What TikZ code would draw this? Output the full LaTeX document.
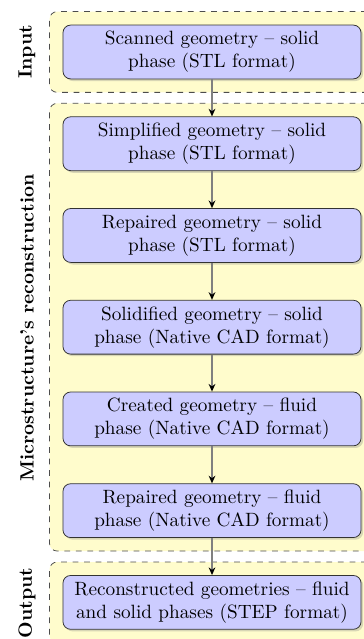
\documentclass[tikz,border=0pt]{standalone}
\usetikzlibrary{positioning,fit,backgrounds,shadows,arrows.meta}

\tikzset{
  stepbox/.style={draw=black!80, rounded corners, fill=blue!20,
    drop shadow={shadow xshift=1.1pt, shadow yshift=-1.1pt, opacity=.3},
    align=center, minimum width=155pt, minimum height=28pt, inner sep=3pt},
  stagebox/.style={draw=black!70, dashed, rounded corners, fill=yellow!20, inner sep=6.8pt},
  stagelabel/.style={rotate=90, font=\bfseries},
  flow/.style={draw=gray, line width=1pt, -{Stealth[black, length=4pt, width=3.5pt]}}
}

\begin{document}
\begin{tikzpicture}[x=0.52pt, y=-0.52pt, node distance=19.3pt]
\useasboundingbox (0,0) rectangle (364,639);
% steps
\node[stepbox] (scan) at (212,52) {Scanned geometry -- solid\\phase (STL format)};
\node[stepbox, below=of scan] (simp) {Simplified geometry -- solid\\phase (STL format)};
\node[stepbox, below=of simp] (rep) {Repaired geometry -- solid\\phase (STL format)};
\node[stepbox, below=of rep] (solid) {Solidified geometry -- solid\\phase (Native CAD format)};
\node[stepbox, below=of solid] (fluid) {Created geometry -- fluid\\phase (Native CAD format)};
\node[stepbox, below=of fluid] (fluidrep) {Repaired geometry -- fluid\\phase (Native CAD format)};
\node[stepbox, below=of fluidrep] (recon) {Reconstructed geometries -- fluid\\and solid phases (STEP format)};
% stages
\begin{scope}[on background layer]
\node[stagebox, fit=(scan)] (input) {};
\node[stagebox, fit=(simp)(fluidrep)] (micro) {};
\node[stagebox, fit=(recon)] (output) {};
\end{scope}
\node[stagelabel] (inlab) at (27,52) {Input};
\node[stagelabel] (microlab) at (27,328) {Microstructure's reconstruction};
\node[stagelabel] (outlab) at (27,603) {Output};
% flow
\draw[flow] (scan) -- (simp);
\draw[flow] (simp) -- (rep);
\draw[flow] (rep) -- (solid);
\draw[flow] (solid) -- (fluid);
\draw[flow] (fluid) -- (fluidrep);
\draw[flow] (fluidrep) -- (recon);
\end{tikzpicture}
\end{document}
